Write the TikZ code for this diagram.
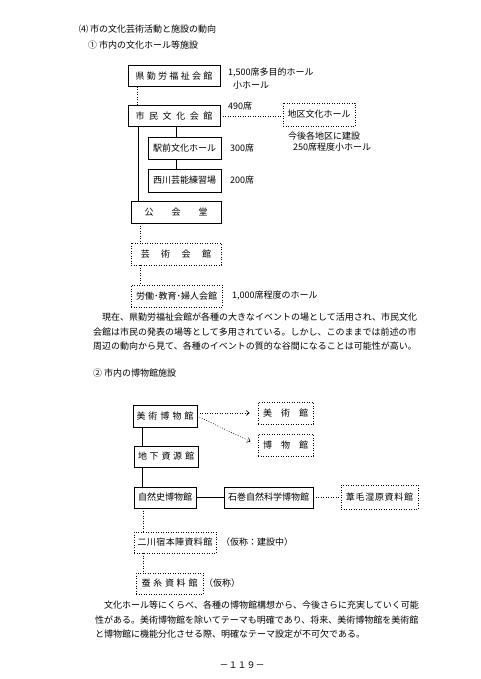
\documentclass[tikz,border=0pt]{standalone}
\usepackage{fontspec}
\setmainfont{Noto Sans CJK JP}
\usetikzlibrary{arrows.meta,positioning}
\makeatletter
\newcommand\spaced[2]{\def\spc@k{#1}\@tfor\spc@c:=#2\do{\spc@c\kern\spc@k}\unkern}
\makeatother

\begin{document}
\begin{tikzpicture}[
  x=1pt, y=-1pt,
  font=\fontsize{9}{11}\selectfont,
  box/.style={draw, line width=0.6pt, inner sep=0pt, minimum height=21pt},
  plan/.style={box, dash pattern=on 0.8pt off 1.7pt},
  link/.style={line width=0.6pt},
  dotlink/.style={line width=0.6pt, dash pattern=on 0.8pt off 1.7pt},
  arr/.style={dotlink, -{Straight Barb[length=3pt,width=5pt]}, shorten >=8pt},
  lbl/.style={anchor=west, inner sep=0pt},
  para/.style={anchor=north west, inner sep=0pt, align=left,
    font=\fontsize{9}{14.5}\selectfont}
]
\fill[white] (0,0) rectangle (480,679);
\useasboundingbox (0,0) rectangle (480,679);

% headings
\node[lbl] (h4) at (79,29) {⑷ 市の文化芸術活動と施設の動向};
\node[lbl] (h41) at (88,45) {① 市内の文化ホール等施設};

% halls
\node[box, minimum width=92pt] (kinrou) at (174,76) {\spaced{2.3pt}{県勤労福祉会館}};
\node[box, minimum width=92pt] (shimin) at (174,116) {\spaced{4.6pt}{市民文化会館}};
\node[plan, minimum width=72pt, minimum height=23pt] (chiku) at (319,114.5) {地区文化ホール};
\node[box, minimum width=73pt, minimum height=22pt] (ekimae) at (184.5,148) {駅前文化ホール};
\node[box, minimum width=73pt, minimum height=23pt] (nishikawa) at (184.5,180.5) {西川芸能練習場};
\node[box, minimum width=90pt, minimum height=22pt] (koukai) at (176,212) {\spaced{18pt}{公会堂}};
\node[plan, minimum width=90pt, minimum height=22pt] (geijutsu) at (176,254) {\spaced{11.5pt}{芸術会館}};
\node[plan, minimum width=91pt, minimum height=22pt] (roudou) at (176.5,296) {労働･教育･婦人会館};

\node[lbl] (kinrou-l1) at (228,73) {1,500席多目的ホール};
\node[lbl] (kinrou-l2) at (233,85) {小ホール};
\node[lbl] (shimin-l) at (228,106) {490席};
\node[lbl] (chiku-l1) at (288,136) {今後各地区に建設};
\node[lbl] (chiku-l2) at (293,147) {250席程度小ホール};
\node[lbl] (ekimae-l) at (230,148) {300席};
\node[lbl] (nishikawa-l) at (230,180) {200席};
\node[lbl] (roudou-l) at (232,296) {1,000席程度のホール};

\draw[dotlink] ([xshift=10pt]kinrou.south west) -- ([xshift=10pt]kinrou.south west |- shimin.north);
\draw[dotlink] (shimin.east) -- (shimin.east -| chiku.west);
\draw[link] ([xshift=-8.5pt]ekimae.north) -- ([xshift=-8.5pt]ekimae.north |- shimin.south);
\draw[link] ([xshift=-8.5pt]ekimae.south) -- ([xshift=-8.5pt]nishikawa.north);
\draw[link] ([xshift=11pt]shimin.south west) -- ([xshift=11pt]shimin.south west |- koukai.north);
\draw[dotlink] ([xshift=10pt]koukai.south west) -- ([xshift=10pt]koukai.south west |- geijutsu.north);
\draw[dotlink] ([xshift=10pt]geijutsu.south west) -- ([xshift=10pt]geijutsu.south west |- roudou.north);

\node[para] (text1) at (93,313) {　現在、県勤労福祉会館が各種の大きなイベントの場として活用され、市民文化\\
会館は市民の発表の場等として多用されている。しかし、このままでは前述の市\\
周辺の動向から見て、各種のイベントの質的な谷間になることは可能性が高い。};

\node[lbl] (h42) at (93,373) {② 市内の博物館施設};

% museums
\node[box, minimum width=64pt, minimum height=22pt] (bihaku) at (165,416) {\spaced{3pt}{美術博物館}};
\node[plan, minimum width=55pt, minimum height=22pt] (bijutsu) at (285.5,413) {\spaced{9pt}{美術館}};
\node[plan, minimum width=55pt, minimum height=22pt] (hakubutsu) at (285.5,445) {\spaced{9pt}{博物館}};
\node[box, minimum width=64pt] (chika) at (166,456.5) {\spaced{2.75pt}{地下資源館}};
\node[box, minimum width=62pt] (shizenshi) at (165,497.5) {自然史博物館};
\node[box, minimum width=89pt] (ishinomaki) at (268.5,497.5) {石巻自然科学博物館};
\node[plan, minimum width=77pt, minimum height=24pt] (ikemo) at (379.5,497) {\spaced{0.7pt}{葦毛湿原資料館}};
\node[plan, minimum width=82pt] (futagawa) at (175,542.5) {\spaced{0.4pt}{二川宿本陣資料館}};
\node[plan, minimum width=67pt] (sanshi) at (169.5,583.5) {\spaced{2.75pt}{蚕糸資料館}};

\node[lbl] (futagawa-l) at (221,542) {（仮称：建設中）};
\node[lbl] (sanshi-l) at (204,583) {（仮称）};

\draw[arr] (bihaku.east |- bijutsu.west) -- (bijutsu.west);
\draw[arr] (bihaku.east) -- (hakubutsu.west);
\draw[link] ([xshift=10pt]bihaku.south west) -- ([xshift=10pt]bihaku.south west |- chika.north);
\draw[link] ([xshift=9pt]chika.south west) -- ([xshift=9pt]chika.south west |- shizenshi.north);
\draw[link] (shizenshi.east) -- (ishinomaki.west);
\draw[dotlink] (ishinomaki.east) -- (ishinomaki.east -| ikemo.west);
\draw[dotlink] ([xshift=10pt]shizenshi.south west) -- ([xshift=10pt]shizenshi.south west |- futagawa.north);
\draw[dotlink] ([xshift=10pt]futagawa.south west) -- ([xshift=10pt]futagawa.south west |- sanshi.north);

\node[para] (text2) at (95,601) {　文化ホール等にくらべ、各種の博物館構想から、今後さらに充実していく可能\\
性がある。美術博物館を除いてテーマも明確であり、将来、美術博物館を美術館\\
と博物館に機能分化させる際、明確なテーマ設定が不可欠である。};

\node (page) at (242,665) {－１１９－};
\end{tikzpicture}
\end{document}
